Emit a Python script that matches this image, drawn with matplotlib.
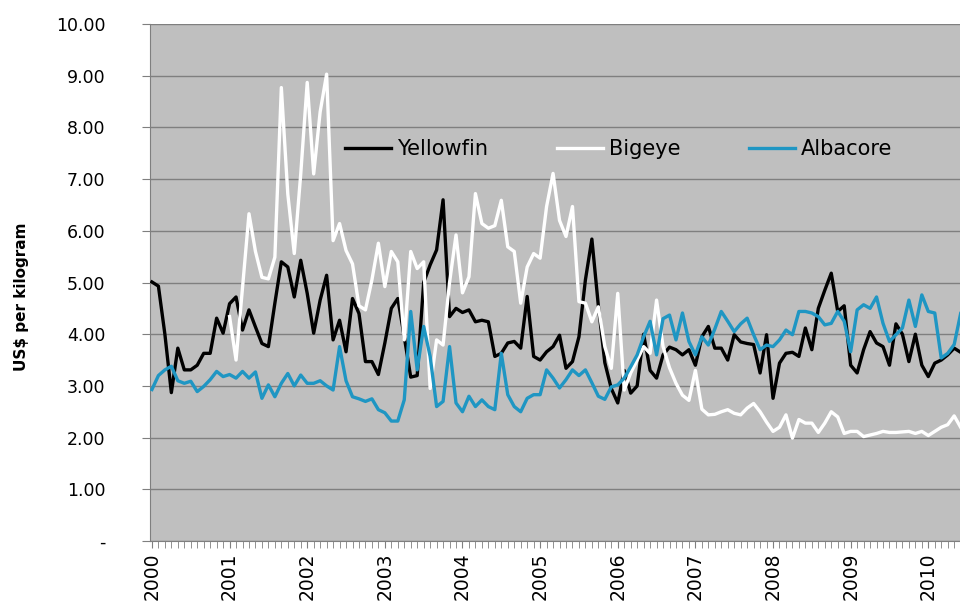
import numpy as np
import matplotlib; matplotlib.use("Agg")
import matplotlib.pyplot as plt
from matplotlib.ticker import FixedLocator, MultipleLocator, FuncFormatter

# monthly prices, Jan 2000 onwards (US$/kg); Bigeye series starts Jan 2001
yellowfin = [5.01, 4.93, 4.00, 2.87, 3.73, 3.31, 3.31, 3.40, 3.63, 3.63, 4.31, 4.02,
             4.59, 4.72, 4.08, 4.47, 4.14, 3.82, 3.76, 4.60, 5.40, 5.30, 4.72, 5.43,
             4.79, 4.02, 4.66, 5.14, 3.89, 4.27, 3.66, 4.69, 4.40, 3.47, 3.47, 3.22,
             3.83, 4.50, 4.69, 3.95, 3.17, 3.20, 5.00, 5.34, 5.63, 6.60, 4.34, 4.50,
             4.42, 4.47, 4.24, 4.27, 4.24, 3.57, 3.63, 3.83, 3.86, 3.73, 4.73, 3.57,
             3.50, 3.66, 3.76, 3.98, 3.34, 3.47, 3.95, 5.05, 5.84, 4.55, 3.45, 2.95,
             2.67, 3.30, 2.86, 3.00, 4.00, 3.30, 3.15, 3.60, 3.75, 3.70, 3.60, 3.70,
             3.40, 3.95, 4.15, 3.73, 3.73, 3.50, 3.99, 3.85, 3.82, 3.80, 3.25, 3.99,
             2.76, 3.44, 3.63, 3.65, 3.57, 4.12, 3.70, 4.50, 4.85, 5.18, 4.44, 4.55,
             3.40, 3.25, 3.70, 4.05, 3.83, 3.76, 3.40, 4.20, 4.00, 3.47, 4.00, 3.40,
             3.18, 3.44, 3.50, 3.60, 3.73, 3.65]
bigeye = [np.nan] * 12 + [
             4.34, 3.50, 4.90, 6.33, 5.60, 5.10, 5.07, 5.49, 8.77, 6.71, 5.56, 7.10,
             8.87, 7.10, 8.30, 9.03, 5.81, 6.14, 5.62, 5.36, 4.55, 4.47, 5.05, 5.76,
             4.92, 5.60, 5.40, 3.89, 5.60, 5.27, 5.40, 2.95, 3.89, 3.79, 5.00, 5.92,
             4.80, 5.11, 6.72, 6.14, 6.05, 6.10, 6.59, 5.69, 5.60, 4.60, 5.30, 5.56,
             5.47, 6.47, 7.11, 6.20, 5.89, 6.47, 4.63, 4.60, 4.24, 4.53, 3.76, 3.34,
             4.79, 2.92, 3.25, 3.50, 3.76, 3.63, 4.66, 3.76, 3.35, 3.05, 2.82, 2.72,
             3.30, 2.55, 2.44, 2.45, 2.50, 2.54, 2.47, 2.44, 2.57, 2.66, 2.50, 2.30,
             2.12, 2.20, 2.44, 1.99, 2.35, 2.28, 2.28, 2.10, 2.28, 2.50, 2.40, 2.08,
             2.12, 2.12, 2.02, 2.05, 2.08, 2.12, 2.10, 2.10, 2.11, 2.12, 2.08, 2.12,
             2.04, 2.12, 2.20, 2.25, 2.42, 2.20]
albacore = [2.93, 3.20, 3.31, 3.38, 3.10, 3.05, 3.09, 2.89, 2.99, 3.12, 3.28, 3.18,
            3.22, 3.15, 3.28, 3.15, 3.27, 2.76, 3.02, 2.79, 3.05, 3.24, 3.00, 3.21,
            3.05, 3.05, 3.10, 3.00, 2.92, 3.76, 3.10, 2.79, 2.75, 2.70, 2.75, 2.54,
            2.48, 2.32, 2.32, 2.73, 4.44, 3.31, 4.15, 3.57, 2.60, 2.70, 3.76, 2.67,
            2.50, 2.80, 2.60, 2.73, 2.60, 2.54, 3.63, 2.83, 2.60, 2.50, 2.76, 2.83,
            2.83, 3.31, 3.15, 2.96, 3.12, 3.31, 3.20, 3.31, 3.06, 2.80, 2.74, 2.98,
            3.02, 3.15, 3.37, 3.60, 3.95, 4.25, 3.60, 4.30, 4.37, 3.89, 4.41, 3.86,
            3.60, 3.95, 3.79, 4.10, 4.44, 4.25, 4.05, 4.20, 4.31, 3.99, 3.70, 3.79,
            3.76, 3.89, 4.08, 3.99, 4.44, 4.44, 4.41, 4.34, 4.18, 4.21, 4.44, 4.25,
            3.66, 4.47, 4.57, 4.50, 4.72, 4.21, 3.86, 3.99, 4.12, 4.66, 4.15, 4.76,
            4.44, 4.41, 3.54, 3.63, 3.80, 4.40]
years = [str(y) for y in range(2000, 2011)]

months = np.arange(len(yellowfin))
TEAL = "#1f96c3"
GRID = "#7f7f7f"

fig = plt.figure(figsize=(9.6, 6.09), dpi=100)
ax = fig.add_axes([150/960, 68/609, 1 - 150/960, 517/609])
ax.set_facecolor("#bfbfbf")

ax.plot(months, yellowfin, color="black", lw=2.4, label="Yellowfin", zorder=3)
ax.plot(months, bigeye, color="white", lw=2.4, label="Bigeye", zorder=3)
ax.plot(months, albacore, color=TEAL, lw=2.4, label="Albacore", zorder=3)

ax.set_ylim(0, 10)
ax.set_xlim(-0.3, 124.9)
ax.yaxis.set_major_locator(MultipleLocator(1))
ax.yaxis.set_major_formatter(FuncFormatter(lambda v, p: "-" if v == 0 else f"{v:.2f}"))
ax.grid(axis="y", color=GRID, lw=1.0)
ax.set_axisbelow(True)

ax.xaxis.set_major_locator(FixedLocator(np.arange(0, 121, 12)))
ax.set_xticklabels(years, rotation=90)
ax.xaxis.set_minor_locator(FixedLocator(months))
ax.tick_params(axis="x", which="both", length=5, color=GRID, labelsize=13.5, pad=3)
ax.tick_params(axis="y", length=6, color=GRID, labelsize=12.5, pad=26)

for s in ("top", "right"):
    ax.spines[s].set_visible(False)
for s in ("left", "bottom"):
    ax.spines[s].set_color(GRID)

fig.text(22/960, 1 - 297/609, "US$ per kilogram", rotation=90, va="center", ha="center",
         fontsize=11, fontweight="bold")

ax.legend(loc="center left", bbox_to_anchor=((345 - 150)/810, (541 - 149)/517), ncol=3,
          frameon=False, fontsize=15, handlelength=2.2, handletextpad=0.3,
          columnspacing=3.3, borderpad=0, borderaxespad=0)

fig.savefig("out.png", dpi=100)
